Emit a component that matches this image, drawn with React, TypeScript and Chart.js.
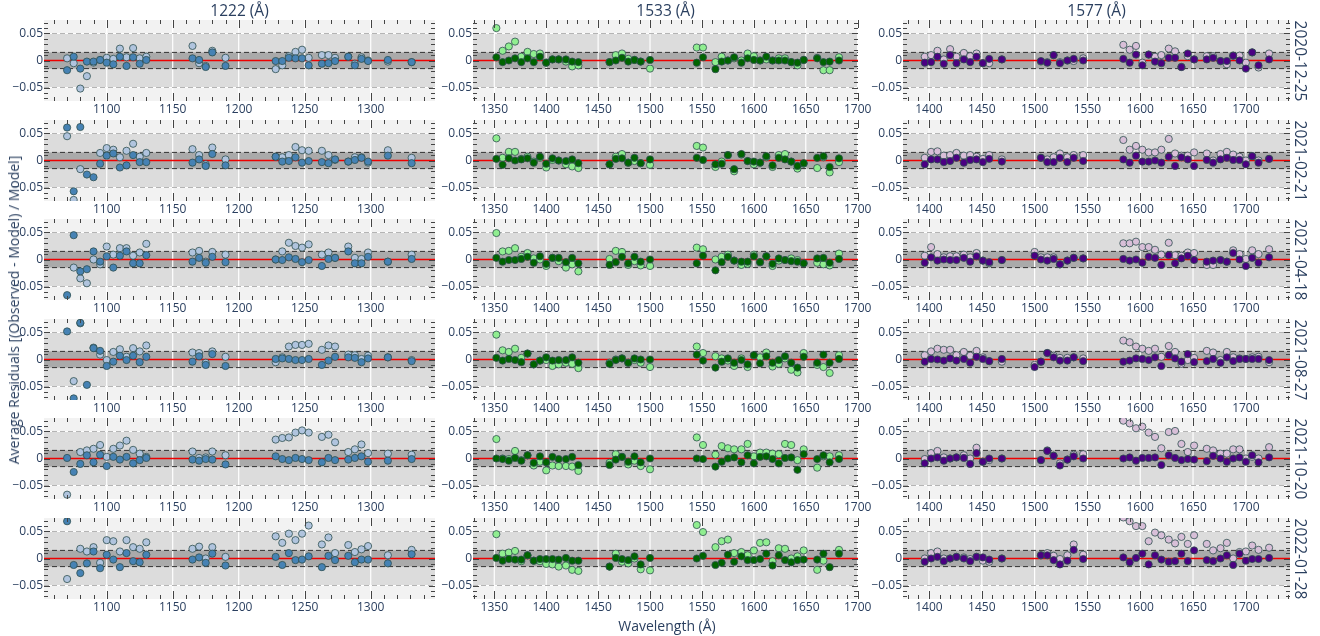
import React, { useEffect, useRef } from 'react';
import { Chart, registerables } from 'chart.js';

Chart.register(...registerables);

type Series = (number | null)[];

// Observation dates (one row of panels each) and line centres (one column each)
const DATES = ['2020-12-25', '2021-02-21', '2021-04-18', '2021-08-27', '2021-10-20', '2022-01-28'];
const LINE_TITLES = ['1222 (Å)', '1533 (Å)', '1577 (Å)'];

// Wavelength sampling of each column (Å)
const WAVE_1222 = [
  1070, 1075, 1080, 1085, 1090, 1095, 1100, 1105, 1110, 1115, 1120, 1125, 1130,
  1165, 1170, 1175, 1180, 1190,
  1228, 1233, 1238, 1243, 1248, 1253, 1263, 1268, 1273, 1283, 1288, 1293, 1298, 1313, 1331,
];
const WAVE_1533 = [
  1352, 1358, 1364, 1370, 1376, 1382, 1388, 1394, 1400, 1406, 1412, 1419, 1425, 1431,
  1461, 1467, 1473, 1479, 1485, 1491, 1500,
  1545, 1551,
  1563, 1569, 1575, 1581, 1588, 1594, 1600, 1606, 1612, 1618, 1624, 1630, 1636, 1642, 1648,
  1661, 1667, 1673, 1682,
];
const WAVE_1577 = [
  1396, 1402, 1408, 1414, 1420, 1426, 1433, 1439, 1445, 1451, 1457, 1469,
  1500, 1506, 1512, 1518, 1524, 1531, 1537, 1546,
  1584, 1590, 1596, 1602, 1608, 1614, 1620, 1627, 1633, 1639, 1645, 1651,
  1663, 1669, 1676, 1682, 1688, 1694, 1700, 1706, 1712, 1722,
];

// Open-marker residuals (pale points), one array per date
const OPEN_1222: Series[] = [
  [0.004, -0.005, -0.052, -0.029, -0.004, 0.001, 0.005, 0.003, 0.022, 0.006, 0.023, 0.004, 0.007,
    0.027, -0.005, -0.010, 0.018, 0.005,
    -0.016, -0.009, 0.008, 0.016, 0.020, 0.005, 0.010, 0.010, 0.005, 0.007, -0.006, 0.006, 0, -0.002, -0.003],
  [0.045, -0.073, -0.016, null, null, 0.014, 0.023, 0.020, 0.006, 0.018, 0.031, 0.007, 0.014,
    0.021, 0.010, -0.007, 0.024, 0.002,
    0.007, 0.006, 0.010, 0.025, 0.019, 0.018, 0.018, 0.010, 0.001, -0.002, 0.006, 0.006, -0.004, 0.019, 0.005],
  [null, -0.015, -0.035, -0.044, 0, -0.009, 0.024, 0.009, 0.021, 0.021, 0.007, 0.013, 0.029,
    0.013, 0.016, -0.004, 0.014, 0.009,
    0, 0.015, 0.031, 0.025, 0.022, 0.028, 0.009, 0.013, 0.003, 0.024, 0.003, 0.001, 0.013, -0.004, 0.009],
  [null, -0.040, 0.067, null, 0.022, 0.009, -0.001, 0.014, 0.019, 0.005, 0.021, 0.015, 0.026,
    0.013, 0.012, -0.006, 0.015, 0.005,
    -0.005, 0.004, 0.024, 0.027, 0.027, 0.029, 0.018, 0.026, 0.024, 0.009, 0.008, 0.001, 0.007, 0.004, -0.001],
  [-0.067, null, 0.012, 0.015, 0.018, 0.025, 0.003, 0.018, 0.024, 0.033, 0.016, 0.009, 0.003,
    0.013, 0.001, 0.002, 0.013, 0.006,
    0.035, 0.038, 0.039, 0.048, 0.052, 0.048, 0.040, 0.044, 0.030, 0.012, 0.017, 0.026, 0.010, 0.009, 0.007],
  [-0.038, null, 0.018, 0.013, 0.021, -0.008, 0.034, 0.032, 0.013, 0.034, 0.021, 0.018, 0.030,
    0.018, 0.022, 0, 0.021, 0.003,
    0.041, 0.029, 0.046, 0.034, 0.046, 0.061, 0.026, 0.039, 0.010, 0.025, 0.012, 0.017, 0.023, 0.006, 0.016],
];

// Filled-marker residuals (saturated points), one array per date
const FILLED_1222: Series[] = [
  [-0.018, 0.007, -0.015, -0.002, -0.002, 0.001, -0.004, -0.007, 0.007, -0.010, 0.006, -0.006, 0.001,
    0.004, 0.001, -0.012, 0.015, -0.010,
    -0.001, -0.001, 0.005, 0.004, 0.004, -0.009, -0.006, -0.005, -0.001, 0.007, -0.009, 0.003, -0.001, 0.001, -0.003],
  [0.061, -0.057, 0.062, -0.026, -0.031, -0.006, 0.009, 0.013, -0.013, -0.009, 0.010, -0.003, -0.003,
    -0.004, 0.002, -0.010, 0.012, -0.009,
    0.007, -0.002, -0.001, 0.006, -0.004, -0.001, -0.003, -0.005, 0.002, -0.002, 0.001, 0.005, -0.002, 0.009, -0.005],
  [-0.066, 0.045, -0.022, -0.018, 0.015, -0.004, 0.006, -0.015, 0.007, 0.015, -0.007, -0.007, 0.008,
    -0.004, 0.003, -0.006, 0.005, -0.005,
    0, -0.001, 0.004, 0.001, -0.005, -0.001, -0.012, 0.001, 0.003, 0.015, -0.007, -0.007, 0.005, -0.004, 0.001],
  [0.052, -0.072, 0.068, -0.047, 0.021, 0.016, -0.012, -0.004, 0.007, -0.001, 0.007, -0.005, 0.005,
    -0.004, 0.006, -0.010, 0.010, -0.012,
    0.001, 0.002, 0.001, -0.001, -0.001, 0.001, -0.010, -0.002, 0.005, 0.004, 0.003, -0.005, 0.002, 0.004, -0.003],
  [0.001, -0.025, -0.010, 0.006, -0.007, 0.007, -0.014, 0.003, -0.002, 0.003, -0.009, -0.003, 0.001,
    -0.002, -0.004, -0.001, -0.002, -0.011,
    0.004, -0.001, -0.003, 0.001, -0.001, -0.003, -0.007, 0.001, -0.003, -0.002, 0.001, 0.004, -0.006, -0.004, -0.001],
  [0.069, -0.012, -0.027, -0.009, 0.013, -0.018, 0.007, -0.002, -0.016, 0.010, -0.005, -0.007, 0.007,
    -0.002, 0.002, -0.008, 0.009, -0.013,
    0.003, -0.012, 0.010, -0.003, -0.002, 0.004, -0.016, 0.005, -0.003, 0.005, -0.007, -0.002, -0.002, -0.009, 0.008],
];

const OPEN_1533: Series[] = [
  [0.060, 0.018, 0.026, 0.035, 0.007, 0.016, 0.012, 0.013, -0.004, 0.002, 0.002, -0.002, -0.011, -0.009,
    -0.003, 0.010, 0.013, 0.003, 0.001, -0.002, -0.015,
    0.024, 0.024,
    -0.003, 0.007, 0, 0.004, 0, 0.013, 0.008, 0, 0.002, 0, 0.004, 0.004, -0.003, -0.009, 0.001,
    0.005, -0.018, -0.018, 0.006],
  [0.041, 0.005, 0.016, 0.016, 0.003, 0.007, -0.002, 0.005, -0.013, 0.001, 0, -0.007, -0.011, -0.014,
    -0.007, 0.007, 0.012, -0.004, -0.001, -0.005, -0.008,
    0.027, 0.024,
    -0.012, -0.002, 0.010, -0.020, 0.011, -0.001, -0.007, -0.004, 0.006, -0.012, 0.010, 0.012, -0.002, -0.015, -0.006,
    -0.014, 0.006, -0.022, -0.003],
  [0.049, 0.015, 0.016, 0.021, 0.005, 0.012, 0.002, 0, -0.012, 0.003, -0.003, -0.015, -0.009, -0.022,
    0.001, 0.016, 0.014, -0.010, -0.003, -0.011, -0.012,
    0.022, 0.019,
    0, 0.005, 0.009, -0.002, -0.010, -0.008, 0.009, -0.005, 0.006, -0.012, -0.002, -0.001, 0.002, -0.001, -0.007,
    -0.006, -0.009, -0.011, 0.011],
  [0.046, 0.017, 0.014, 0.020, 0.003, 0.011, -0.009, -0.002, -0.001, -0.012, -0.009, -0.006, -0.008, -0.016,
    -0.006, 0, 0.002, -0.006, -0.001, -0.006, -0.014,
    0.024, 0.012,
    0.006, 0.002, -0.002, -0.012, 0.002, -0.014, 0.007, 0.004, 0.013, -0.013, -0.008, 0.002, -0.019, -0.024, 0.012,
    -0.010, -0.014, -0.025, 0.008],
  [0.036, 0, -0.001, 0.014, -0.003, 0.006, -0.013, -0.006, -0.022, -0.013, -0.014, -0.014, -0.015, -0.023,
    -0.008, 0.008, 0.003, -0.011, -0.004, -0.014, -0.020,
    0.039, 0.025,
    0.007, 0.023, 0.019, 0.017, 0.017, 0.027, 0.004, 0.011, 0.011, 0.009, 0.008, 0.027, 0.025, -0.003, 0.017,
    -0.017, 0.004, 0.004, 0.006],
  [0.045, 0.009, 0.011, 0.014, -0.005, 0.006, -0.004, -0.005, -0.010, -0.011, -0.015, -0.013, -0.021, -0.023,
    -0.015, 0.009, -0.006, -0.009, 0, -0.020, -0.022,
    0.062, 0.049,
    0.021, 0.032, 0.035, 0.010, 0.012, 0.006, 0.015, 0.029, 0.030, -0.005, 0.019, 0.018, 0, 0.004, 0.015,
    -0.021, -0.004, null, 0.016],
];

const FILLED_1533: Series[] = [
  [0.006, -0.003, 0, 0.004, -0.003, 0.004, -0.003, 0.007, -0.004, 0.002, 0.002, 0.002, -0.002, -0.003,
    -0.003, 0, 0.005, -0.002, 0.001, -0.002, 0.001,
    -0.004, 0.006,
    -0.016, -0.002, 0, 0.006, -0.004, 0.004, 0.001, 0, 0.007, 0, 0, 0, -0.003, -0.004, 0.001,
    0.004, -0.003, -0.002, 0],
  [0.003, -0.008, 0.004, 0, 0.002, 0.004, -0.004, 0.007, -0.006, 0.004, 0, -0.001, 0.002, -0.005,
    -0.007, 0.003, 0.004, -0.004, 0.005, -0.005, 0.002,
    0.005, 0.001,
    -0.007, -0.006, 0.010, -0.016, 0.012, -0.001, -0.002, -0.004, 0.008, -0.009, 0.005, 0.002, -0.002, -0.010, -0.005,
    0.005, 0.008, -0.012, 0.004],
  [0.003, -0.004, -0.001, -0.001, 0.001, 0.005, -0.006, 0.006, -0.008, 0.003, 0.003, -0.005, 0.003, -0.007,
    -0.010, -0.005, 0.005, -0.007, 0.005, -0.004, 0,
    -0.007, 0.007,
    -0.020, -0.005, 0.005, -0.002, -0.004, -0.004, 0.006, -0.005, 0.006, -0.008, 0.002, -0.001, -0.003, -0.004, -0.007,
    0.002, 0.003, -0.006, 0.001],
  [0.003, -0.002, 0.001, -0.001, -0.005, 0.011, -0.009, -0.002, 0.004, -0.002, -0.001, -0.001, 0.004, -0.006,
    -0.008, -0.001, 0.002, -0.006, 0.002, 0, 0,
    0.009, -0.002,
    -0.015, -0.004, 0.002, -0.006, -0.001, -0.009, 0.008, -0.007, 0.006, -0.006, -0.001, 0.006, -0.006, -0.015, 0.005,
    -0.006, 0.009, -0.006, 0.001],
  [0, -0.001, -0.004, 0.001, -0.004, 0.006, -0.008, 0.004, -0.007, 0.003, -0.001, -0.001, 0.003, -0.012,
    -0.012, -0.002, 0.003, -0.006, 0.004, -0.007, 0,
    0, -0.001,
    -0.015, -0.006, 0, 0.002, -0.007, 0.006, -0.009, 0.003, 0.004, -0.001, -0.009, 0.001, 0.002, -0.021, 0.008,
    -0.001, 0.006, -0.007, -0.001],
  [0.001, -0.004, -0.001, -0.002, -0.002, 0.006, -0.004, -0.001, -0.001, -0.001, -0.002, 0.001, -0.004, -0.004,
    -0.015, 0.001, -0.001, -0.003, 0.004, -0.011, 0.001,
    0, 0.005,
    -0.012, -0.008, 0.007, -0.006, 0.004, -0.003, -0.003, -0.001, 0.009, -0.013, 0.006, -0.003, -0.007, -0.003, -0.002,
    -0.002, 0.009, -0.016, 0.009],
];

const OPEN_1577: Series[] = [
  [0.007, 0.010, 0.018, 0.002, 0.021, 0.007, 0.014, 0.008, 0.013, -0.005, -0.005, 0.002,
    null, -0.002, -0.003, 0.010, -0.003, 0, -0.001, 0.004,
    0.029, 0.020, 0.027, -0.004, 0.011, 0.007, 0.010, 0.022, 0.017, -0.012, 0.008, 0.002,
    0.008, 0.008, -0.001, -0.007, 0.009, 0.009, -0.004, 0.015, -0.013, 0.013],
  [0.005, 0.016, 0.017, 0.009, 0.010, 0.014, 0.009, 0.010, 0.007, 0.003, 0.010, 0.002,
    null, 0.005, 0.002, 0.006, 0.013, 0.006, 0.010, 0.010,
    0.038, 0.020, 0.027, 0.020, 0.015, 0.015, 0.020, 0.040, 0.013, 0.009, 0.009, 0.015,
    0.013, 0, 0.012, 0.016, 0.011, 0.007, 0, 0.008, 0, 0.003],
  [0.007, 0.023, 0.010, 0.004, 0.006, 0.006, 0.009, 0.004, 0.012, -0.002, -0.007, -0.001,
    0.014, 0.004, 0.004, 0.004, -0.009, -0.002, 0.003, 0.002,
    0.030, 0.030, 0.033, 0.023, 0.023, 0.018, 0.009, 0.031, 0.008, 0.007, 0.013, 0.012,
    -0.010, -0.010, -0.001, -0.004, 0.017, 0.010, 0.001, 0.017, 0.010, 0.019],
  [0.008, 0.015, 0.020, 0.018, 0.018, 0.008, 0.014, 0.007, 0.016, 0.004, -0.003, -0.004,
    -0.010, -0.004, 0.012, 0.007, 0.003, 0.003, 0.004, 0.002,
    0.035, 0.032, 0.024, 0.020, 0.016, 0.020, 0.005, 0.025, 0.014, -0.008, -0.001, 0.003,
    0.016, 0.013, -0.001, 0.014, 0.004, 0.002, 0.001, 0.004, 0.005, -0.005],
  [-0.001, 0.010, 0.014, 0.002, 0, 0.002, 0.006, 0, 0.020, -0.006, -0.003, 0,
    null, -0.003, 0.015, 0.005, -0.009, -0.002, 0.007, 0.008,
    0.070, 0.065, 0.056, 0.059, 0.048, 0.040, 0.019, 0.049, 0.051, 0.027, 0.012, 0.024,
    0.018, 0.015, 0.009, 0.009, 0.017, 0.017, 0, 0.003, 0, 0.021],
  [0, 0.010, 0.013, 0, 0, 0.003, 0.002, -0.001, 0.003, -0.004, -0.006, 0,
    null, 0.006, 0.010, 0.005, -0.001, 0.006, 0.026, 0.007,
    0.076, 0.069, 0.060, 0.060, 0.032, 0.048, 0.043, 0.035, 0.028, 0.040, 0.027, 0.043,
    0.027, 0.015, 0.019, 0.029, 0, 0.012, 0.013, 0.024, 0.016, 0.020],
];

const FILLED_1577: Series[] = [
  [-0.004, -0.003, 0.007, -0.006, 0.010, -0.005, 0.002, -0.003, 0.007, -0.005, 0.003, 0.002,
    null, -0.001, -0.004, 0.010, -0.005, 0, 0.003, 0,
    0.003, -0.004, 0.011, -0.009, 0.011, -0.002, -0.005, 0.005, 0.005, -0.012, 0.013, 0.002,
    0.002, 0.005, -0.001, -0.001, 0.009, 0, -0.015, 0.015, -0.009, 0.002],
  [-0.007, 0.002, 0.002, -0.003, -0.001, 0.005, -0.004, 0.001, 0.002, -0.003, 0.003, -0.002,
    null, 0.005, -0.003, -0.003, 0.005, -0.003, 0.005, -0.001,
    0.002, -0.004, 0.009, -0.002, -0.002, 0, -0.004, 0.007, -0.010, 0.006, 0.002, -0.010,
    0.001, -0.004, 0.002, 0.005, 0.001, 0.001, -0.007, 0.008, -0.004, 0.003],
  [-0.006, 0.004, -0.002, 0, -0.001, -0.001, 0.003, -0.004, 0.006, -0.002, -0.005, -0.001,
    0.007, 0, -0.002, 0.001, -0.009, -0.002, 0.003, 0.002,
    0.001, -0.002, 0, -0.006, 0.005, 0.003, -0.010, 0.008, -0.007, 0.002, 0.007, -0.001,
    -0.004, -0.002, -0.001, -0.004, 0.012, 0, -0.012, 0.003, -0.006, 0.004],
  [-0.004, 0.001, 0, -0.002, 0.002, -0.002, 0.001, -0.006, 0.005, 0.001, -0.003, 0.001,
    -0.014, -0.004, 0.012, 0.004, -0.002, -0.002, 0.004, -0.003,
    -0.004, -0.002, 0.002, 0.001, -0.001, 0.004, -0.012, 0.008, 0.002, -0.004, 0.010, -0.005,
    -0.003, 0.001, -0.006, 0.004, -0.003, 0.001, 0.001, 0.001, 0.001, -0.001],
  [-0.009, 0, 0.002, -0.004, 0, 0.002, 0.001, -0.010, 0.010, -0.006, 0, 0,
    null, -0.003, 0.014, 0.005, -0.013, -0.002, 0.004, 0,
    0, 0.002, -0.004, 0.001, 0.001, 0.002, -0.012, 0.006, 0.001, -0.003, -0.001, -0.002,
    -0.005, 0.005, 0, -0.006, 0, 0.002, -0.006, 0.006, -0.007, 0.002],
  [-0.006, 0, 0.003, -0.005, 0, 0.003, 0, -0.005, 0.003, 0.002, -0.002, 0,
    null, 0.006, 0.006, -0.003, -0.011, -0.004, 0.016, -0.001,
    0.002, -0.007, 0.001, 0.009, -0.011, 0.006, -0.002, -0.006, -0.005, 0.009, -0.005, 0.015,
    -0.003, -0.005, 0, 0.006, -0.012, 0.009, -0.004, -0.001, -0.001, 0.001],
];

// Axis ranges, labelled ticks and reference levels
const X_RANGE_1222 = [1052.5, 1348.7];
const X_RANGE_1533 = [1329.5, 1700.3];
const X_RANGE_1577 = [1375.4, 1741.8];
const X_TICKS_1222 = [1100, 1150, 1200, 1250, 1300];
const X_TICKS_1533 = [1350, 1400, 1450, 1500, 1550, 1600, 1650, 1700];
const X_TICKS_1577 = [1400, 1450, 1500, 1550, 1600, 1650, 1700];
const Y_RANGE = [-0.075, 0.075];
const Y_TICKS = [-0.05, 0, 0.05];
const TOLERANCE_BANDS = [0.05, 0.015];

// Styling
const FONT = "'Open Sans', 'Noto Sans', sans-serif";
const TEXT_COLOR = '#2a3f5f';
const OPEN_COLORS = ['#b0c4de', '#90ee90', '#d8bfd8'];
const FILLED_COLORS = ['#4682b4', '#006400', '#4b0082'];
const MARKER_EDGE = '#2f4f4f';

// Panel geometry (px)
const PLOT_LEFT = [44, 473, 903];
const PLOT_RIGHT = [435, 858, 1290];
const ROW_TOP = 20;
const ROW_PITCH = 99.6;
const PLOT_H = 81;
const Y_AXIS_W = 44;
const X_AXIS_H = 22;
const PAD_TOP = 10;
const PAD_RIGHT = 22;

const COLUMNS = [
  { wave: WAVE_1222, open: OPEN_1222, filled: FILLED_1222, range: X_RANGE_1222, ticks: X_TICKS_1222 },
  { wave: WAVE_1533, open: OPEN_1533, filled: FILLED_1533, range: X_RANGE_1533, ticks: X_TICKS_1533 },
  { wave: WAVE_1577, open: OPEN_1577, filled: FILLED_1577, range: X_RANGE_1577, ticks: X_TICKS_1577 },
];

const toPoints = (xs: number[], ys: Series) =>
  xs.map((x, i) => ({ x, y: ys[i] })).filter((p) => p.y !== null && p.y !== undefined) as { x: number; y: number }[];

// Background bands, grid, reference lines and mirrored inside ticks
const panelFrame = {
  id: 'panelFrame',
  beforeDatasetsDraw(chart: any) {
    const { ctx, chartArea: a, scales } = chart;
    const xs = scales.x;
    const ys = scales.y;
    const w = a.right - a.left;
    ctx.save();
    ctx.beginPath();
    ctx.rect(a.left, a.top, w, a.bottom - a.top);
    ctx.clip();

    ctx.fillStyle = '#f2f2f2';
    ctx.fillRect(a.left, a.top, w, a.bottom - a.top);

    const [outer, inner] = TOLERANCE_BANDS;
    const oT = ys.getPixelForValue(outer);
    const oB = ys.getPixelForValue(-outer);
    ctx.fillStyle = '#dcdcdc';
    ctx.fillRect(a.left, oT, w, oB - oT);
    const iT = ys.getPixelForValue(inner);
    const iB = ys.getPixelForValue(-inner);
    ctx.fillStyle = '#aaaaaa';
    ctx.fillRect(a.left, iT, w, iB - iT);

    // white vertical grid at labelled wavelengths
    ctx.strokeStyle = '#ffffff';
    ctx.lineWidth = 1.2;
    for (const t of xs.ticks) {
      const px = xs.getPixelForValue(t.value);
      ctx.beginPath();
      ctx.moveTo(px, a.top);
      ctx.lineTo(px, a.bottom);
      ctx.stroke();
    }
    // white horizontal grid at the outer band edges
    for (const v of [outer, -outer]) {
      const py = ys.getPixelForValue(v);
      ctx.beginPath();
      ctx.moveTo(a.left, py);
      ctx.lineTo(a.right, py);
      ctx.stroke();
    }

    ctx.lineWidth = 1;
    ctx.setLineDash([5, 3]);
    ctx.strokeStyle = '#b4b4b4';
    for (const v of [outer, -outer]) {
      const py = ys.getPixelForValue(v);
      ctx.beginPath();
      ctx.moveTo(a.left, py);
      ctx.lineTo(a.right, py);
      ctx.stroke();
    }
    ctx.strokeStyle = '#333333';
    for (const v of [inner, -inner]) {
      const py = ys.getPixelForValue(v);
      ctx.beginPath();
      ctx.moveTo(a.left, py);
      ctx.lineTo(a.right, py);
      ctx.stroke();
    }
    ctx.setLineDash([]);

    // zero-residual line
    const z = ys.getPixelForValue(0);
    ctx.strokeStyle = '#ee0000';
    ctx.lineWidth = 1.6;
    ctx.beginPath();
    ctx.moveTo(a.left, z);
    ctx.lineTo(a.right, z);
    ctx.stroke();
    ctx.restore();
  },
  afterDatasetsDraw(chart: any) {
    const { ctx, chartArea: a, scales } = chart;
    const xs = scales.x;
    const ys = scales.y;
    ctx.save();
    ctx.strokeStyle = '#444444';
    ctx.lineWidth = 1;
    const start = Math.ceil(xs.min / 10) * 10;
    for (let v = start; v <= xs.max; v += 10) {
      const px = Math.round(xs.getPixelForValue(v)) + 0.5;
      const len = v % 50 === 0 ? 8 : 4;
      ctx.beginPath();
      ctx.moveTo(px, a.top);
      ctx.lineTo(px, a.top + len);
      ctx.moveTo(px, a.bottom);
      ctx.lineTo(px, a.bottom - len);
      ctx.stroke();
    }
    for (let k = -7; k <= 7; k++) {
      const py = Math.round(ys.getPixelForValue(k / 100)) + 0.5;
      const len = k % 5 === 0 ? 6 : 4;
      ctx.beginPath();
      ctx.moveTo(a.left, py);
      ctx.lineTo(a.left + len, py);
      ctx.moveTo(a.right, py);
      ctx.lineTo(a.right - len, py);
      ctx.stroke();
    }
    ctx.restore();
  },
};

const formatResidual = (v: number | string) => {
  const n = Number(v);
  if (Math.abs(n) < 1e-9) return '0';
  return (n < 0 ? '\u2212' : '') + Math.abs(n).toFixed(2);
};

function Panel({ col, row }: { col: number; row: number }) {
  const ref = useRef<HTMLCanvasElement>(null);
  const spec = COLUMNS[col];
  const plotW = PLOT_RIGHT[col] - PLOT_LEFT[col];
  const left = PLOT_LEFT[col] - Y_AXIS_W;
  const top = ROW_TOP + Math.round(row * ROW_PITCH) - PAD_TOP;
  const width = Y_AXIS_W + plotW + PAD_RIGHT;
  const height = PAD_TOP + PLOT_H + X_AXIS_H;

  useEffect(() => {
    const tickFont = { family: FONT, size: 12 };
    const markerStyle = { borderColor: MARKER_EDGE, pointRadius: 3.6, pointBorderWidth: 0.8, clip: 0 };
    const chart = new Chart(ref.current as HTMLCanvasElement, {
      type: 'scatter',
      data: {
        datasets: [
          { data: toPoints(spec.wave, spec.filled[row]), backgroundColor: FILLED_COLORS[col], ...markerStyle },
          { data: toPoints(spec.wave, spec.open[row]), backgroundColor: OPEN_COLORS[col], ...markerStyle },
        ],
      },
      options: {
        responsive: false,
        animation: false,
        events: [],
        layout: { padding: { top: PAD_TOP, right: PAD_RIGHT, left: 0, bottom: 0 } },
        plugins: { legend: { display: false }, tooltip: { enabled: false }, title: { display: false } },
        scales: {
          x: {
            type: 'linear',
            position: 'bottom',
            min: spec.range[0],
            max: spec.range[1],
            grid: { display: false, drawTicks: false },
            border: { display: false },
            ticks: {
              autoSkip: false,
              maxRotation: 0,
              padding: 1,
              font: tickFont,
              color: TEXT_COLOR,
              callback: (v: any) => String(v),
            },
            afterBuildTicks: (s: any) => {
              s.ticks = spec.ticks.map((value) => ({ value }));
            },
            afterFit: (s: any) => {
              s.height = X_AXIS_H;
            },
          },
          y: {
            type: 'linear',
            position: 'left',
            min: Y_RANGE[0],
            max: Y_RANGE[1],
            grid: { display: false, drawTicks: false },
            border: { display: false },
            ticks: {
              autoSkip: false,
              padding: 1,
              font: tickFont,
              color: TEXT_COLOR,
              callback: formatResidual,
            },
            afterBuildTicks: (s: any) => {
              s.ticks = Y_TICKS.map((value) => ({ value }));
            },
            afterFit: (s: any) => {
              s.width = Y_AXIS_W;
            },
          },
        },
      } as any,
      plugins: [panelFrame],
    });
    return () => chart.destroy();
  }, [col, row]);

  return (
    <canvas
      ref={ref}
      width={width}
      height={height}
      style={{ position: 'absolute', left, top, width, height }}
    />
  );
}

const textBase: React.CSSProperties = {
  position: 'absolute',
  fontFamily: FONT,
  color: TEXT_COLOR,
  fontSize: 14,
  lineHeight: 1,
  whiteSpace: 'nowrap',
};

export default function App() {
  const gridCenterX = (PLOT_LEFT[0] + PLOT_RIGHT[2]) / 2;
  const gridTop = ROW_TOP;
  const gridBottom = ROW_TOP + Math.round(5 * ROW_PITCH) + PLOT_H;
  return (
    <div style={{ position: 'absolute', left: 0, top: 0, width: 1320, height: 636, background: '#ffffff', overflow: 'hidden' }}>
      {DATES.map((d, r) =>
        COLUMNS.map((_, c) => <Panel key={`${d}-${c}`} col={c} row={r} />)
      )}
      {LINE_TITLES.map((t, c) => (
        <div
          key={t}
          style={{
            ...textBase,
            fontSize: 15.5,
            left: (PLOT_LEFT[c] + PLOT_RIGHT[c]) / 2,
            top: 11,
            transform: 'translate(-50%, -50%)',
          }}
        >
          {t}
        </div>
      ))}
      {DATES.map((d, r) => (
        <div
          key={d}
          style={{
            ...textBase,
            fontSize: 15.5,
            left: 1300,
            top: ROW_TOP + Math.round(r * ROW_PITCH) + PLOT_H / 2,
            transform: 'translate(-50%, -50%) rotate(90deg)',
          }}
        >
          {d}
        </div>
      ))}
      <div
        style={{
          ...textBase,
          left: 14,
          top: (gridTop + gridBottom) / 2,
          transform: 'translate(-50%, -50%) rotate(-90deg)',
        }}
      >
        Average Residuals [(Observed - Model) / Model]
      </div>
      <div style={{ ...textBase, left: gridCenterX, top: 626, transform: 'translate(-50%, -50%)' }}>
        Wavelength (Å)
      </div>
    </div>
  );
}
